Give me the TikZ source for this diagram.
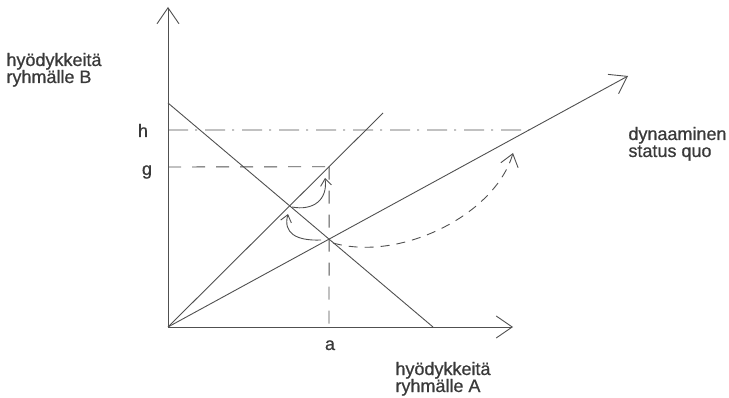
\documentclass[tikz,border=0pt]{standalone}
\usepackage{fontspec}
\setmainfont{Liberation Sans}
\newfontfamily\lblfont[FakeBold=0.7]{Liberation Sans}
\usetikzlibrary{arrows.meta,calc}
\definecolor{ink}{HTML}{505050}
\definecolor{txt}{HTML}{3A3A3A}
\begin{document}
\begin{tikzpicture}[x=1pt,y=-1pt,
  line width=0.9pt, draw=ink,
  axis/.style={draw=ink,-{Straight Barb[length=16pt,width=22pt,line width=0.9pt]}},
  plain/.style={draw=ink},
  gdash/.style={draw=ink,dash pattern=on 13pt off 11pt},
  hdash/.style={draw=ink,dash pattern=on 20pt off 7pt on 2pt off 8pt},
  curvearrow/.style={draw=ink,-{Straight Barb[length=7pt,width=11pt,line width=0.9pt]}},
  dcurve/.style={draw=ink,dash pattern=on 9pt off 7pt,-{Straight Barb[length=12pt,width=18pt,line width=0.9pt]}},
  lbl/.style={text=txt,font=\lblfont\fontsize{18}{17}\selectfont,inner sep=0pt,align=left}]
\useasboundingbox (0,0) rectangle (729,398);
% points
\coordinate (O) at (168,327);
\coordinate (Ytop) at (168,7);
\coordinate (Xend) at (513,327);
\coordinate (D1) at (168,103);
\coordinate (D2) at (433,327);
\coordinate (S45) at (383,113);
\coordinate (SQ) at (628,76);
\coordinate (P) at (intersection of D1--D2 and O--SQ);
\coordinate (Q) at (intersection of D1--D2 and O--S45);
\coordinate (Pup) at ($(P)+(0,-100)$);
\coordinate (R) at (intersection of O--S45 and P--Pup);
\coordinate (Ah) at (168,130);
\coordinate (Ahf) at (700,130);
\coordinate (H) at (intersection of Ah--Ahf and O--SQ);
\coordinate (G) at (168,167);
\coordinate (Ax) at (P |- O);
% axes
\draw[axis] (O) -- (Ytop);
\draw[axis] (O) -- (Xend);
% lines
\draw[plain] (D1) -- (D2);
\draw[plain] (O) -- (S45);
\draw[axis] (O) -- (SQ);
% dashed guides
\draw[hdash] (Ah) -- (H);
\draw[gdash] (G) -- (R);
\draw[gdash] (R) -- (Ax);
% curved arrows
\coordinate (c1s) at (321,240);
\coordinate (c1e) at (288,214);
\draw[curvearrow] (c1s) .. controls (296,241) and (283,233) .. (c1e);
\coordinate (c2s) at (292,207);
\coordinate (c2e) at (325,178);
\draw[curvearrow] (c2s) .. controls (313,211) and (328,200) .. (c2e);
\coordinate (c3s) at (333,243);
\coordinate (c3e) at (513,153);
\draw[dcurve] (c3s) .. controls (400,262) and (495,215) .. (c3e);
% labels (base = baseline of last line)
\node[lbl,anchor=base west] (lB) at (6,83) {hyödykkeitä\\ryhmälle B};
\node[lbl,anchor=base west] (lA) at (395,392) {hyödykkeitä\\ryhmälle A};
\node[lbl,anchor=base west] (lSQ) at (628,157) {dynaaminen\\status quo};
\node[lbl,anchor=base] (lh) at (143,137) {h};
\node[lbl,anchor=base] (lg) at (147,175) {g};
\node[lbl,anchor=base] (la) at (330,350) {a};
\end{tikzpicture}
\end{document}
